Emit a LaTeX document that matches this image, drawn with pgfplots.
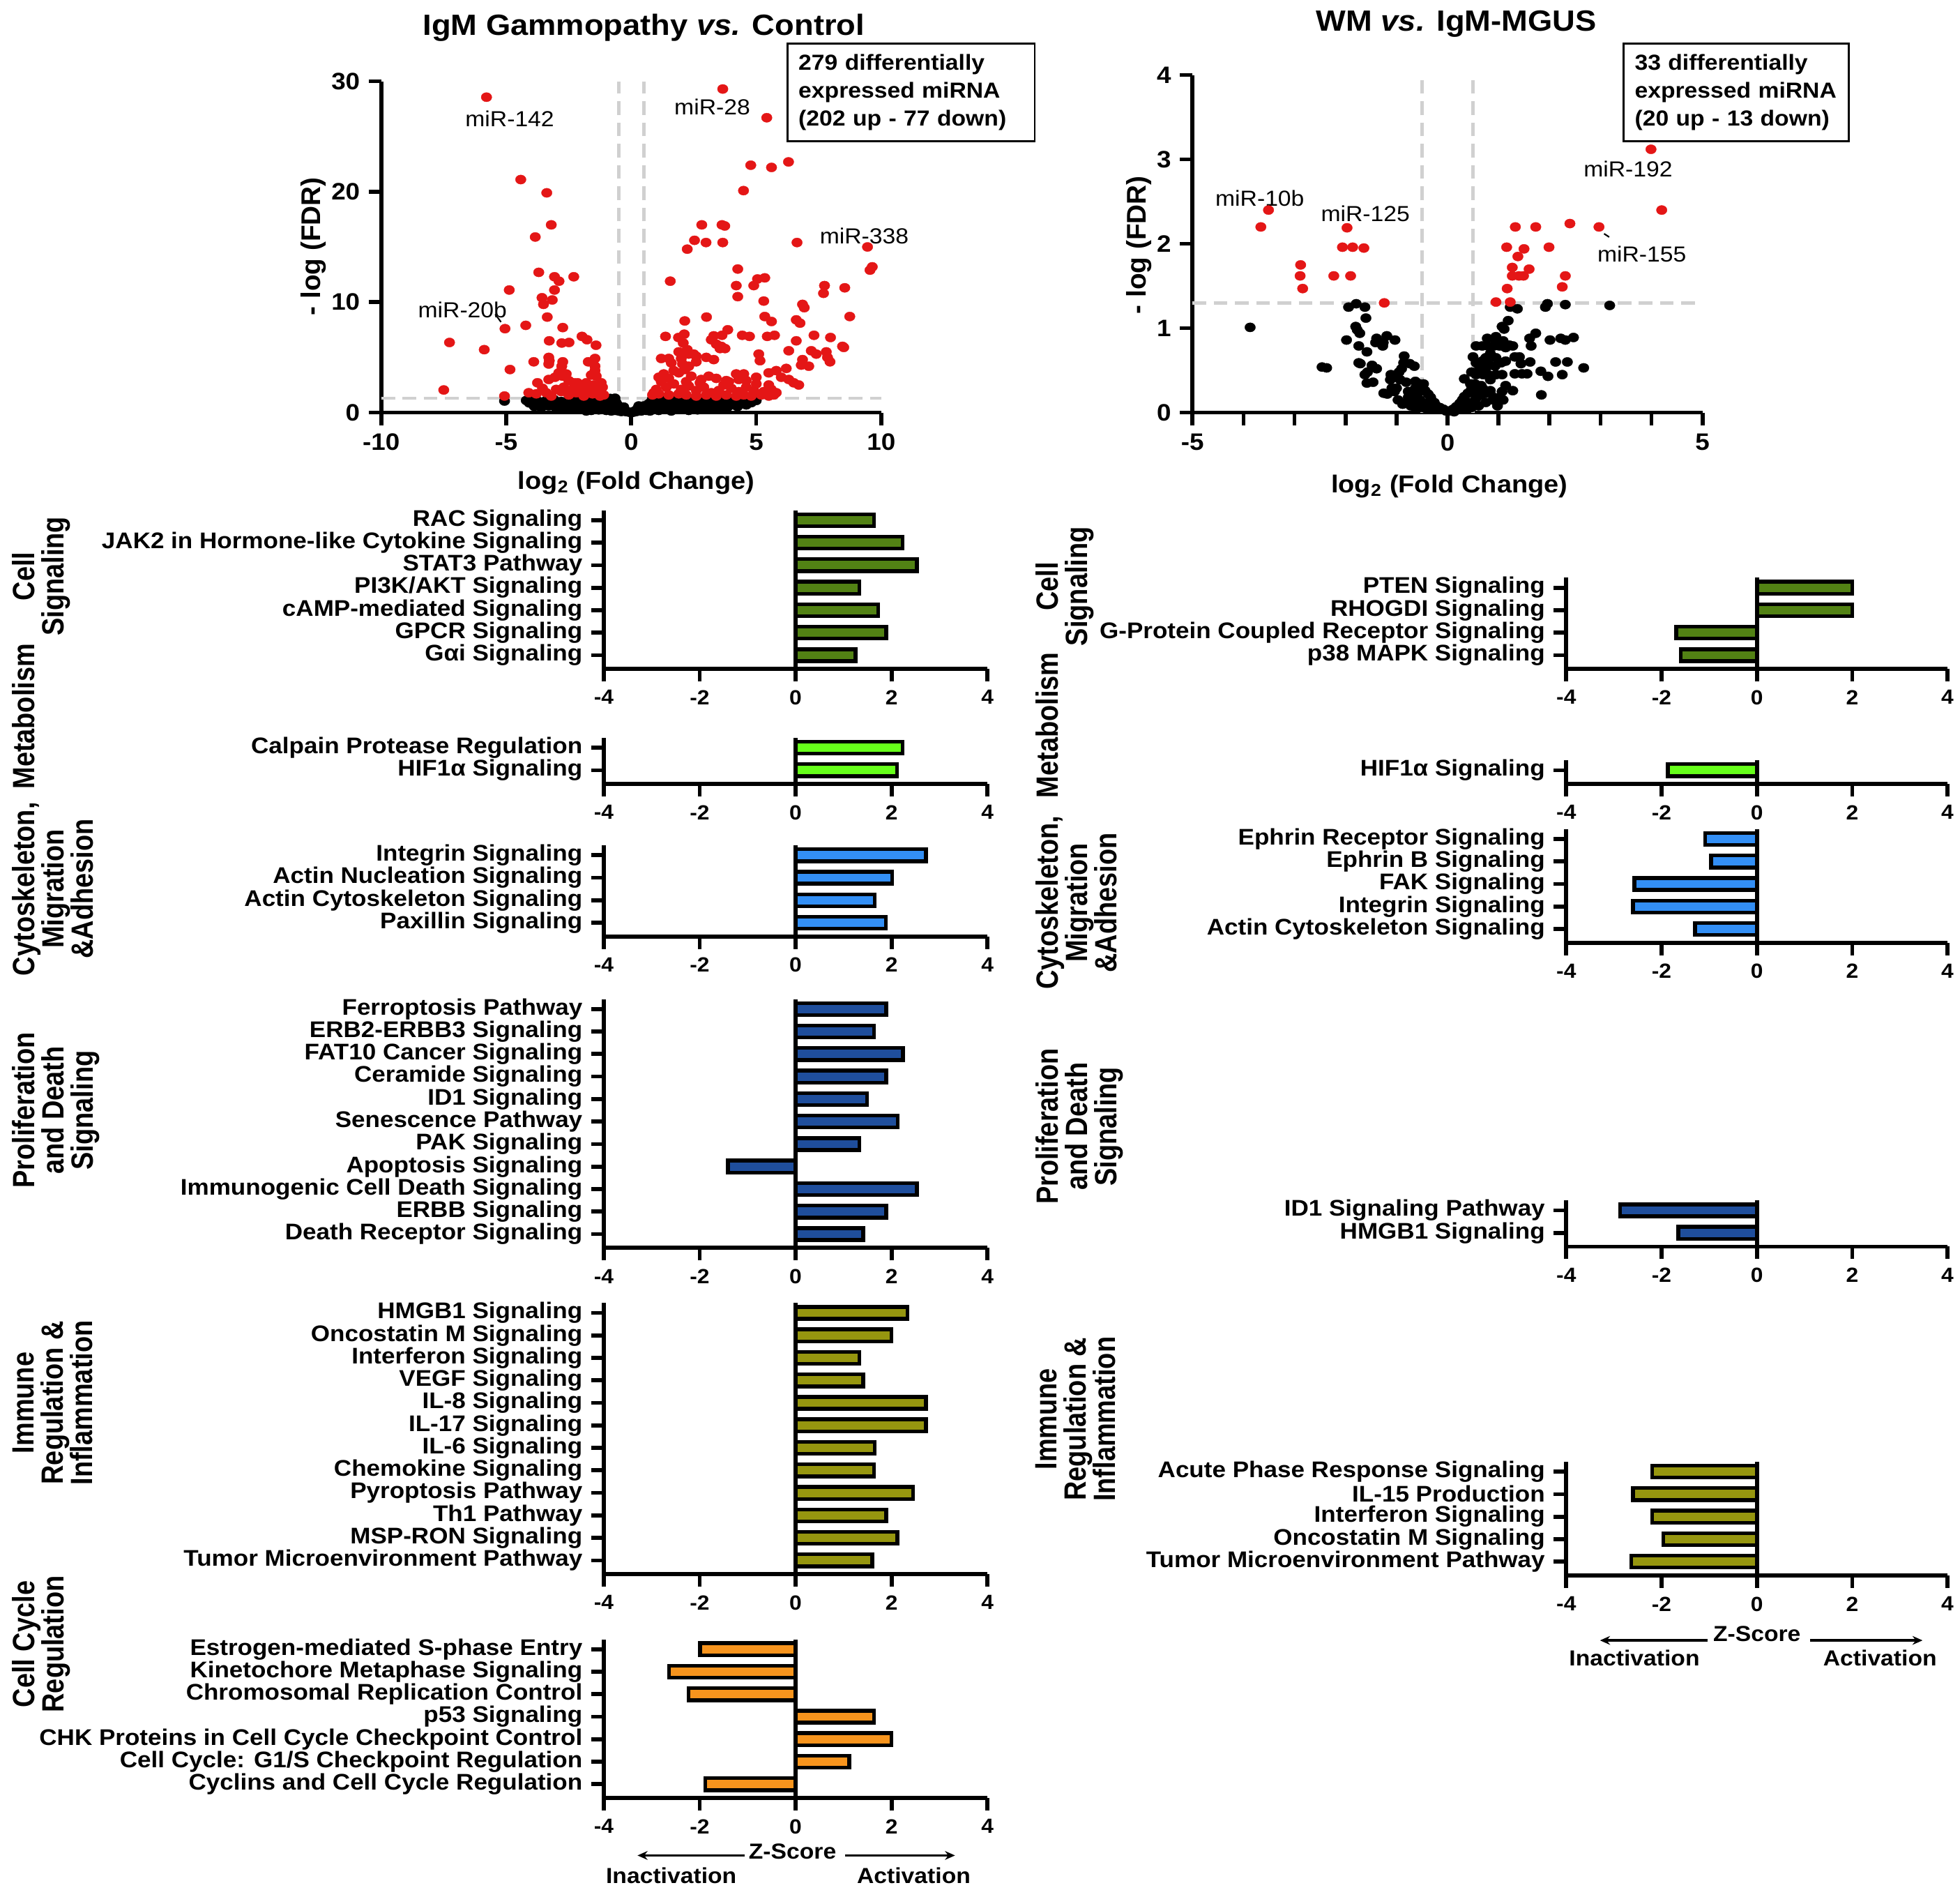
\documentclass[border=0pt]{standalone}
\usepackage{pgfplots}
\pgfplotsset{compat=1.18}
\usepackage{fontspec}
\setmainfont{Liberation Sans}[FakeStretch=1.08]
\newfontfamily\rotf{Liberation Sans}[FakeStretch=0.86]
\newfontfamily\plainf{Liberation Sans}
\usetikzlibrary{arrows.meta}

\definecolor{cellsig}{RGB}{82,130,20}
\definecolor{metab}{RGB}{102,255,26}
\definecolor{cyto}{RGB}{51,143,245}
\definecolor{prolif}{RGB}{31,78,156}
\definecolor{immune}{RGB}{150,150,15}
\definecolor{cycle}{RGB}{247,148,29}
\definecolor{updot}{RGB}{228,22,22}
\definecolor{thrgray}{RGB}{208,208,208}

\pgfplotsset{
  gp/.style={scale only axis, axis lines=left, axis line style={-, line width=1.6pt},
    tick align=outside, major tick length=5pt, minor tick length=5pt,
    tick style={black, line width=1.6pt}, minor tick style={black, line width=1.6pt},
    enlargelimits=false, clip=false, anchor=south west},
  volc/.style={gp, tick label style={font=\bfseries\fontsize{9.5}{10}\selectfont}},
  zbar/.style={gp, width=#1, xmin=-4, xmax=4, xtick={-4,-2,0,2,4},
    xticklabels={-4,-2,0,2,4}, ymin=0.39,
    xticklabel style={font=\bfseries\fontsize{8.2}{9}\selectfont},
    yticklabel style={font=\bfseries\fontsize{9.05}{9}\selectfont}},
  bars/.style={xbar, bar width=4.8pt, draw=black, line width=1.5pt, fill=#1},
  zero/.style={black, line width=1.6pt, no marks},
  thr/.style={thrgray, line width=1.3pt, dash pattern=on 5.5pt off 3pt, no marks},
  dn/.style={only marks, mark=*, mark size=1.85pt,
    mark options={fill=black, draw=black, line width=0.1pt, xscale=1.15}},
  up/.style={only marks, mark=*, mark size=1.85pt,
    mark options={fill=updot, draw=updot, line width=0.1pt, xscale=1.15}},
}
\tikzset{
  grp/.style={rotate=90, anchor=north, align=center, inner sep=0pt,
    font=\rotf\bfseries\fontsize{12.3}{11.75}\selectfont},
  ttl/.style={font=\bfseries\fontsize{11.7}{13}\selectfont},
  mir/.style={font=\fontsize{8.7}{9}\selectfont, inner sep=0pt},
  note/.style={draw, line width=0.8pt, anchor=north west, align=left,
    inner xsep=4.5pt, inner ysep=3pt, minimum height=39pt,
    font=\bfseries\fontsize{8.7}{11.25}\selectfont},
  zs/.style={font=\bfseries\fontsize{8.7}{9}\selectfont},
}

\begin{document}
\begin{tikzpicture}
\useasboundingbox (0,0) rectangle (784pt,-755.6pt);

% ---------- volcano: IgM gammopathy vs control ----------
\node[ttl] at (257.5pt,-11pt) {IgM Gammopathy \textit{vs.} Control};
\begin{axis}[volc, at={(152.5pt,-165pt)}, width=200pt, height=132.5pt,
  xmin=-10, xmax=10, ymin=0, ymax=30,
  xtick={-10,-5,0,5,10}, xticklabels={-10,-5,0,5,10},
  ytick={0,10,20,30}, yticklabels={0,10,20,30}]
\addplot[thr] coordinates {(-0.5,0) (-0.5,30)};
\addplot[thr] coordinates {(0.5,0) (0.5,30)};
\addplot[thr] coordinates {(-10,1.3) (10,1.3)};
\addplot[dn] coordinates {
(-5.07,1.05) (-4.2,1.1) (-4.0,0.9) (-3.9,1.2) (-3.8,0.7) (-3.7,1.0) (-3.6,0.5)
(-3.5,0.9) (-3.4,1.1) (-3.3,0.6) (-3.2,0.85) (-3.1,1.2) (-3.0,0.4) (-2.9,0.9)
(-2.8,1.0) (-2.7,0.5) (-2.6,0.8) (-2.5,1.1) (-2.4,0.6) (-2.3,0.9) (-2.2,0.4)
(-2.1,1.0) (-2.0,0.7) (-1.9,0.3) (-1.9,1.2) (-1.8,0.8) (-1.7,0.5) (-1.7,1.1)
(-1.6,0.2) (-1.6,0.9) (-1.5,0.6) (-1.5,1.2) (-1.4,0.3) (-1.4,1.0) (-1.3,0.7)
(-1.2,0.4) (-1.2,1.1) (-1.1,0.8) (-1.0,0.2) (-1.0,0.6) (-0.9,1.0) (-0.9,0.4)
(-0.8,0.7) (-0.8,0.15) (-0.7,0.5) (-0.7,1.2) (-0.6,0.3) (-0.6,0.9) (-0.5,0.6)
(-0.5,0.15) (-0.4,0.35) (-0.4,0.1) (-0.3,0.2) (-0.2,0.1) (-0.1,0.05) (0,0)
(0.1,0.05) (0.2,0.1) (0.3,0.2) (0.4,0.15) (0.4,0.4) (0.5,0.3) (0.5,0.6)
(0.6,0.2) (0.6,0.5) (0.7,0.8) (0.7,0.35) (0.8,0.6) (0.8,1.0) (0.9,0.3)
(0.9,0.8) (1.0,0.5) (1.0,1.1) (1.1,0.7) (1.1,0.2) (1.2,0.9) (1.2,0.45)
(1.3,1.2) (1.3,0.6) (1.4,0.3) (1.4,0.9) (1.5,0.7) (1.5,1.1) (1.6,0.4)
(1.7,0.8) (1.7,1.2) (1.8,0.5) (1.9,1.0) (2.0,0.7) (2.0,0.3) (2.1,1.1)
(2.2,0.6) (2.3,0.9) (2.4,0.4) (2.5,1.2) (2.5,0.7) (2.6,0.9) (2.7,0.5)
(2.8,1.0) (2.9,0.7) (3.0,1.1) (3.1,0.6) (3.2,0.9) (3.3,0.4) (3.4,1.0)
(3.5,0.8) (3.6,1.2) (3.7,0.6) (3.8,0.9) (3.9,1.1) (4.0,0.7) (4.1,1.0)
(4.2,0.8) (4.3,1.2) (4.4,0.9) (4.5,1.0) (4.6,0.7) (4.7,1.1) (4.8,0.9)
(5.0,1.1) (-0.3,0.5) (0.3,0.6) (-1.8,0.15) (1.6,0.15) (-2.5,0.3) (2.3,0.2)
(-4.08,0.88) (-3.88,0.57) (-3.6,0.46) (-3.32,0.67) (-3.13,0.99) (-3.79,1.09)
(-2.9,0.46) (-2.76,0.78) (-2.52,0.67) (-2.34,0.88) (-2.15,1.2) (-1.92,0.67)
(-1.73,0.88) (-1.54,0.99) (-1.36,0.88) (-1.17,1.09) (-0.98,1.2) (-0.84,1.28)
(-0.65,1.3) (0.84,1.2) (1.26,1.3) (1.64,1.2) (1.92,1.09) (2.29,1.2) (2.66,1.09)
(3.04,1.2) (3.41,1.09) (3.79,1.2) (4.16,1.09) (4.63,1.09) (4.98,1.2)
(0.98,0.67) (1.36,0.57) (1.82,0.67) (2.29,0.57) (2.76,0.46) (3.22,0.67)
(3.69,0.57) (4.16,0.67) (0.42,0.46) (0.61,0.36) (0.79,0.57) (0.23,0.25)
(0.14,0.15) (3.41,0.36) (3.79,0.67)
(-1.8,0.5) (-1.6,0.35) (-1.45,0.55) (-1.3,0.25) (-1.15,0.45) (-1.05,0.3)
(-0.95,0.5) (-0.85,0.25) (-0.75,0.4) (-0.65,0.2) (-0.55,0.35) (-0.45,0.2)
(-0.35,0.3) (-0.25,0.12) (-1.25,0.85) (-1.05,0.95) (-0.85,1.05) (-1.65,0.7)
(-1.85,1.0) (-2.2,0.75) (-2.35,0.5) (-2.6,0.95) (-2.85,0.65) (-3.05,0.8)
(0.25,0.35) (0.55,0.45) (0.75,0.15) (0.95,0.65) (1.15,0.4) (1.35,0.8)
(1.55,0.5) (1.75,0.3) (1.95,0.55) (2.15,0.85) (2.45,0.45) (2.65,0.25)
(2.85,0.55) (3.15,0.3) (3.45,0.6) (3.85,0.5) (4.25,0.55) (4.55,0.85)};
\addplot[up] coordinates {
(-5.79,28.56) (3.66,29.30) (5.42,26.70) (6.29,22.70) (4.78,22.40) (5.61,22.20)
(4.49,20.10) (-4.42,21.10) (-3.38,19.90) (-3.20,17.00) (-3.84,15.90) (2.82,17.00)
(3.63,17.00) (3.74,16.90) (2.53,15.60) (2.99,15.40) (3.66,15.40) (2.24,14.80)
(6.63,15.40) (9.45,15.00) (9.64,13.20) (9.55,12.90) (4.26,13.00) (1.56,11.90)
(-3.70,12.70) (-3.07,12.30) (-2.89,11.90) (-2.30,12.30) (-4.88,11.10) (-3.07,11.10)
(4.20,11.50) (5.05,12.10) (5.34,12.20) (4.90,11.50) (4.26,10.50) (7.73,11.50)
(7.69,10.80) (8.54,11.30) (-3.57,10.40) (-3.51,9.80) (-3.16,10.20) (5.30,10.10)
(6.85,9.80) (6.92,9.50) (-3.36,8.65) (-5.05,7.60) (-4.22,7.90) (-2.74,7.70)
(3.01,8.65) (2.14,8.30) (5.34,8.70) (5.61,8.25) (6.60,8.40) (6.75,8.10)
(8.74,8.70) (3.86,7.50) (2.12,7.10) (1.37,6.90) (3.30,6.95) (3.63,7.00)
(4.44,7.00) (4.73,6.90) (5.44,6.90) (5.73,7.00) (7.31,7.00) (7.97,6.80)
(-1.97,6.90) (-1.77,6.60) (-3.28,6.50) (-2.78,6.30) (-2.49,6.35) (-1.41,6.10)
(-7.27,6.35) (-5.88,5.70)
(1.89,6.80) (2.08,6.30) (2.24,5.70) (1.9,5.5) (2.1,5.4) (2.3,5.3) (2.5,5.3) (2.6,5.1)
(3.2,6.6) (3.4,6.2) (3.6,6.0) (3.75,5.8) (3.55,5.8) (6.6,6.5) (8.45,6.0) (8.5,5.9)
(6.3,5.6) (7.2,5.6) (7.4,5.3) (7.8,5.5) (7.85,5.0) (7.95,4.6) (5.1,5.3) (5.15,4.7)
(6.85,4.8) (6.8,4.3) (7.1,4.2) (1.2,4.9) (1.5,4.9) (1.6,4.5) (2.0,4.9) (2.05,4.4)
(2.3,4.2) (2.6,4.6) (3.3,4.8) (3.0,5.0) (1.7,3.8) (1.9,3.6) (2.15,3.9) (2.4,3.3)
(1.3,3.5) (1.1,3.2) (1.5,3.1) (2.8,3.0) (3.1,3.3) (3.4,3.1) (3.8,2.9) (4.2,3.5)
(4.5,3.5) (4.3,3.0) (5.0,3.2) (5.5,3.6) (5.8,3.8) (6.2,4.0) (6.0,3.2) (6.3,3.0)
(6.5,2.7) (6.7,2.5) (5.5,2.5) (5.0,2.6) (4.6,2.3) (4.9,2.0) (5.3,1.9) (5.6,2.1)
(5.8,1.8) (4.3,1.9) (4.0,2.2) (3.7,2.5) (3.5,2.0) (3.2,1.8) (2.9,2.3) (2.6,2.0)
(2.3,2.4) (2.0,2.1) (1.7,2.6) (1.4,2.3) (1.2,2.8) (1.0,2.1) (0.9,1.8) (0.85,1.6)
(1.1,1.7) (1.5,1.6) (1.9,1.7) (2.2,1.6) (2.6,1.5) (3.0,1.6) (3.4,1.5) (3.8,1.6)
(4.2,1.5) (4.5,1.6) (4.8,1.5) (5.2,1.6) (5.5,1.5) (5.7,1.6) (3.9,2.8) (4.6,2.9)
(2.2,2.8) (2.75,2.7)
(-4.85,3.9) (-3.9,4.6) (-3.3,5.0) (-3.28,4.7) (-3.3,4.4) (-2.74,4.6) (-2.78,4.2)
(-1.72,4.6) (-1.45,4.9) (-1.45,4.2) (-3.75,2.7) (-3.55,2.2) (-3.3,3.0) (-3.05,3.2)
(-2.9,3.6) (-2.75,3.3) (-2.6,3.5) (-2.5,2.9) (-2.3,2.7) (-2.1,2.5) (-1.95,2.3)
(-1.8,2.7) (-1.65,2.2) (-1.5,2.5) (-1.4,3.3) (-1.35,2.1) (-1.2,2.7) (-1.15,2.3)
(-1.6,3.4) (-1.45,3.8) (-2.35,2.1) (-2.7,2.3) (-3.0,2.1) (-3.4,1.8) (-3.8,1.7)
(-4.1,1.8) (-2.8,1.9) (-2.2,1.8) (-1.85,1.9) (-1.55,1.7) (-1.3,1.9) (-1.1,1.6)
(-1.9,1.5) (-2.5,1.6) (-3.2,1.5) (-1.25,1.5) (-7.5,2.05) (-5.07,1.5) (-2.15,2.7)
(-1.7,2.0)};
\node[mir] at (axis cs:-4.86,26.6) {miR-142};
\node[mir] at (axis cs:3.24,27.7) {miR-28};
\node[mir] at (axis cs:9.32,16.0) {miR-338};
\node[mir] at (axis cs:-6.75,9.3) {miR-20b};
\draw[line width=0.6pt] (axis cs:-5.44,8.9) -- (axis cs:-5.21,8.2);
\end{axis}
\node[note, minimum width=99pt, text width=90pt] at (314.5pt,-17pt)
  {279 differentially\\expressed miRNA\\(202 up - 77 down)};
\node[rotate=90, font=\plainf\bfseries\fontsize{10.8}{12}\selectfont] at (125.5pt,-98.5pt) {- log (FDR)};
\node[font=\bfseries\fontsize{9.8}{11}\selectfont] at (254.5pt,-193pt) {log\textsubscript{2} (Fold Change)};

% ---------- volcano: WM vs IgM-MGUS ----------
\node[ttl] at (582.5pt,-9.5pt) {WM \textit{vs.} IgM-MGUS};
\begin{axis}[volc, at={(477pt,-165pt)}, width=204pt, height=135pt,
  xmin=-5, xmax=5, ymin=0, ymax=4,
  xtick={-5,0,5}, xticklabels={-5,0,5},
  minor xtick={-4,-3,-2,-1,1,2,3,4},
  ytick={0,1,2,3,4}, yticklabels={0,1,2,3,4}]
\addplot[thr] coordinates {(-0.5,0) (-0.5,4)};
\addplot[thr] coordinates {(0.5,0) (0.5,4)};
\addplot[thr] coordinates {(-5,1.3) (5,1.3)};
\addplot[dn] coordinates {
(-3.87,1.01) (-2.46,0.54) (-2.37,0.53) (3.18,1.27)
(-1.94,1.25) (-1.79,1.29) (-1.62,1.25) (-1.60,1.12) (-1.80,1.02) (-1.77,0.98)
(-1.72,0.94) (-1.98,0.86) (-1.74,0.79) (-1.58,0.72) (-1.39,0.88) (-1.41,0.83)
(-1.26,0.83) (-1.27,0.79) (-1.19,0.91) (-1.03,0.86) (-1.74,0.59) (-1.71,0.58)
(-1.48,0.56) (-1.39,0.52) (-1.62,0.45) (-1.57,0.48) (-1.58,0.35) (-1.46,0.36)
(-0.85,0.67) (-0.86,0.59) (-0.74,0.58) (-0.65,0.55) (-0.90,0.52) (-0.95,0.48)
(-1.02,0.43) (-1.11,0.45) (-1.12,0.39) (-0.93,0.39) (-0.81,0.36) (-1.09,0.29)
(-1.00,0.29) (-1.04,0.25) (-1.25,0.23) (-1.18,0.22) (-0.97,0.15) (-0.83,0.11)
(-0.77,0.25) (-0.70,0.21) (-0.77,0.18) (-0.65,0.15) (-0.72,0.08) (-0.63,0.37)
(-0.54,0.34) (-0.47,0.34) (-0.44,0.26) (-0.38,0.22) (-0.33,0.18) (-0.26,0.12)
(-0.22,0.08) (-0.15,0.06) (-0.08,0.04) (-0.03,0.02) (-0.54,0.15) (-0.44,0.11)
(-0.35,0.08) (-0.58,0.08) (-0.49,0.06) (-0.40,0.04) (-0.31,0.04) (-0.63,0.29)
(-0.58,0.23) (-0.74,0.12) (-0.88,0.10) (-0.61,0.04)
(1.23,1.25) (1.37,1.23) (1.19,1.09) (1.07,1.02) (1.11,0.99) (1.92,1.25)
(1.96,1.29) (2.31,1.28) (0.78,0.88) (0.95,0.90) (0.95,0.85) (1.09,0.85)
(1.12,0.81) (1.21,0.80) (1.28,0.79) (1.14,0.77) (0.56,0.79) (0.68,0.79)
(0.79,0.79) (0.91,0.79) (1.02,0.79) (0.84,0.70) (0.95,0.65) (0.75,0.65)
(0.50,0.66) (0.56,0.59) (0.68,0.61) (0.79,0.59) (0.63,0.54) (0.75,0.52)
(0.93,0.55) (1.05,0.59) (1.14,0.61) (0.47,0.48) (0.56,0.45) (0.70,0.45)
(0.84,0.44) (0.95,0.45) (1.07,0.45) (0.33,0.40) (0.45,0.34) (0.54,0.34)
(0.66,0.32) (0.84,0.39) (1.32,0.66) (1.41,0.66) (1.44,0.58) (1.61,0.88)
(1.73,0.94) (1.64,0.79) (1.62,0.60) (1.32,0.46) (1.46,0.46) (1.56,0.46)
(1.83,0.49) (1.97,0.43) (2.01,0.86) (2.22,0.88) (2.31,0.86) (2.47,0.89)
(2.12,0.60) (2.35,0.60) (2.67,0.53) (2.25,0.45) (1.84,0.21) (1.14,0.32)
(1.07,0.25) (1.28,0.26) (1.02,0.18) (0.91,0.18) (1.09,0.15) (0.98,0.08)
(0.11,0.04) (0.17,0.07) (0.24,0.11) (0.29,0.15) (0.33,0.19) (0.40,0.23)
(0.47,0.28) (0.54,0.30) (0.29,0.07) (0.38,0.10) (0.47,0.12) (0.56,0.17)
(0.66,0.21) (0.75,0.23) (0.84,0.26) (0.22,0.04) (0.33,0.04) (0.47,0.06)
(0.61,0.08) (0.75,0.12) (0.89,0.15) (0.56,0.23) (0.70,0.28) (0.04,0.02)
(0.13,0.01)};
\addplot[up] coordinates {
(-3.51,2.40) (-3.66,2.20) (-2.88,1.75) (-2.89,1.62) (-2.84,1.47) (-1.97,2.19)
(-2.06,1.96) (-1.86,1.96) (-1.64,1.95) (-2.23,1.62) (-1.90,1.62) (-1.24,1.30)
(3.99,3.12) (4.20,2.40) (2.97,2.20) (2.40,2.24) (1.33,2.20) (1.73,2.20)
(1.16,1.96) (1.50,1.94) (1.99,1.96) (1.38,1.85) (1.27,1.72) (1.60,1.70)
(1.27,1.62) (1.40,1.62) (1.49,1.62) (2.31,1.62) (1.17,1.47) (2.25,1.49)
(0.95,1.31) (1.23,1.31)};
\node[mir] at (axis cs:-3.68,2.54) {miR-10b};
\node[mir] at (axis cs:-1.61,2.36) {miR-125};
\node[mir] at (axis cs:3.54,2.89) {miR-192};
\node[mir] at (axis cs:3.81,1.88) {miR-155};
\draw[line width=0.6pt] (axis cs:3.07,2.12) -- (axis cs:3.17,2.08);
\end{axis}
\node[note, minimum width=90pt, text width=81pt] at (649pt,-17pt)
  {33 differentially\\expressed miRNA\\(20 up - 13 down)};
\node[rotate=90, font=\plainf\bfseries\fontsize{10.8}{12}\selectfont] at (455.5pt,-98pt) {- log (FDR)};
\node[font=\bfseries\fontsize{9.8}{11}\selectfont] at (579.75pt,-194.5pt) {log\textsubscript{2} (Fold Change)};

% ---------- left bar panels ----------
\begin{axis}[zbar=153.5pt, at={(241.5pt,-267.5pt)}, height=63.45pt, ymax=7.44,
  ytick={1,2,3,4,5,6,7},
  yticklabels={Gαi Signaling,GPCR Signaling,cAMP-mediated Signaling,PI3K/AKT Signaling,STAT3 Pathway,JAK2 in Hormone-like Cytokine Signaling,RAC Signaling}]
\addplot[bars=cellsig] coordinates {(1.63,7) (2.23,6) (2.53,5) (1.33,4) (1.72,3) (1.89,2) (1.25,1)};
\addplot[zero] coordinates {(0,0.39) (0,7.44)};
\end{axis}

\begin{axis}[zbar=153.5pt, at={(241.5pt,-313.5pt)}, height=18.45pt, ymax=2.44,
  ytick={1,2}, yticklabels={HIF1α Signaling,Calpain Protease Regulation}]
\addplot[bars=metab] coordinates {(2.23,2) (2.11,1)};
\addplot[zero] coordinates {(0,0.39) (0,2.44)};
\end{axis}

\begin{axis}[zbar=153.5pt, at={(241.5pt,-374.5pt)}, height=36.45pt, ymax=4.44,
  ytick={1,2,3,4},
  yticklabels={Paxillin Signaling,Actin Cytoskeleton Signaling,Actin Nucleation Signaling,Integrin Signaling}]
\addplot[bars=cyto] coordinates {(2.72,4) (2.01,3) (1.65,2) (1.88,1)};
\addplot[zero] coordinates {(0,0.39) (0,4.44)};
\end{axis}

\begin{axis}[zbar=153.5pt, at={(241.5pt,-499pt)}, height=99.45pt, ymax=11.44,
  ytick={1,2,3,4,5,6,7,8,9,10,11},
  yticklabels={Death Receptor Signaling,ERBB Signaling,Immunogenic Cell Death Signaling,Apoptosis Signaling,PAK Signaling,Senescence Pathway,ID1 Signaling,Ceramide Signaling,FAT10 Cancer Signaling,ERB2-ERBB3 Signaling,Ferroptosis Pathway}]
\addplot[bars=prolif] coordinates {(1.89,11) (1.63,10) (2.24,9) (1.89,8) (1.49,7) (2.13,6) (1.33,5) (-1.41,4) (2.53,3) (1.89,2) (1.41,1)};
\addplot[zero] coordinates {(0,0.39) (0,11.44)};
\end{axis}

\begin{axis}[zbar=153.5pt, at={(241.5pt,-629.5pt)}, height=108.45pt, ymax=12.44,
  ytick={1,2,3,4,5,6,7,8,9,10,11,12},
  yticklabels={Tumor Microenvironment Pathway,MSP-RON Signaling,Th1 Pathway,Pyroptosis Pathway,Chemokine Signaling,IL-6 Signaling,IL-17 Signaling,IL-8 Signaling,VEGF Signaling,Interferon Signaling,Oncostatin M Signaling,HMGB1 Signaling}]
\addplot[bars=immune] coordinates {(2.33,12) (2.00,11) (1.33,10) (1.41,9) (2.72,8) (2.72,7) (1.65,6) (1.63,5) (2.45,4) (1.89,3) (2.12,2) (1.60,1)};
\addplot[zero] coordinates {(0,0.39) (0,12.44)};
\end{axis}

\begin{axis}[zbar=153.5pt, at={(241.5pt,-719pt)}, height=63.45pt, ymax=7.44,
  ytick={1,2,3,4,5,6,7},
  yticklabels={Cyclins and Cell Cycle Regulation,Cell Cycle: G1/S Checkpoint Regulation,CHK Proteins in Cell Cycle Checkpoint Control,p53 Signaling,Chromosomal Replication Control,Kinetochore Metaphase Signaling,Estrogen-mediated S-phase Entry}]
\addplot[bars=cycle] coordinates {(-1.99,7) (-2.64,6) (-2.23,5) (1.63,4) (2.00,3) (1.12,2) (-1.88,1)};
\addplot[zero] coordinates {(0,0.39) (0,7.44)};
\end{axis}

% ---------- right bar panels ----------
\begin{axis}[zbar=152.5pt, at={(626.5pt,-267.5pt)}, height=36.45pt, ymax=4.44,
  ytick={1,2,3,4},
  yticklabels={p38 MAPK Signaling,G-Protein Coupled Receptor Signaling,RHOGDI Signaling,PTEN Signaling}]
\addplot[bars=cellsig] coordinates {(2.00,4) (2.00,3) (-1.69,2) (-1.60,1)};
\addplot[zero] coordinates {(0,0.39) (0,4.44)};
\end{axis}

\begin{axis}[zbar=152.5pt, at={(626.5pt,-313.5pt)}, height=9.45pt, ymax=1.44,
  ytick={1}, yticklabels={HIF1α Signaling}]
\addplot[bars=metab] coordinates {(-1.87,1)};
\addplot[zero] coordinates {(0,0.39) (0,1.44)};
\end{axis}

\begin{axis}[zbar=152.5pt, at={(626.5pt,-377pt)}, height=45.45pt, ymax=5.44,
  ytick={1,2,3,4,5},
  yticklabels={Actin Cytoskeleton Signaling,Integrin Signaling,FAK Signaling,Ephrin B Signaling,Ephrin Receptor Signaling}]
\addplot[bars=cyto] coordinates {(-1.09,5) (-0.96,4) (-2.57,3) (-2.60,2) (-1.30,1)};
\addplot[zero] coordinates {(0,0.39) (0,5.44)};
\end{axis}

\begin{axis}[zbar=152.5pt, at={(626.5pt,-498.5pt)}, height=18.45pt, ymax=2.44,
  ytick={1,2}, yticklabels={HMGB1 Signaling,ID1 Signaling Pathway}]
\addplot[bars=prolif] coordinates {(-2.87,2) (-1.65,1)};
\addplot[zero] coordinates {(0,0.39) (0,2.44)};
\end{axis}

\begin{axis}[zbar=152.5pt, at={(626.5pt,-630pt)}, height=45.45pt, ymax=5.44,
  ytick={1,2,3,4,5},
  yticklabels={Tumor Microenvironment Pathway,Oncostatin M Signaling,Interferon Signaling,IL-15 Production,Acute Phase Response Signaling}]
\addplot[bars=immune] coordinates {(-2.20,5) (-2.60,4) (-2.20,3) (-1.96,2) (-2.64,1)};
\addplot[zero] coordinates {(0,0.39) (0,5.44)};
\end{axis}

% ---------- group labels ----------
\node[grp] at (4.75pt,-230.5pt) {Cell\\Signaling};
\node[grp] at (4.75pt,-286.5pt) {Metabolism};
\node[grp] at (4.75pt,-355.5pt) {Cytoskeleton,\\Migration\\\&Adhesion};
\node[grp] at (4.75pt,-444pt) {Proliferation\\and Death\\Signaling};
\node[grp] at (4.75pt,-561pt) {Immune\\Regulation \&\\Inflammation};
\node[grp] at (4.75pt,-657.5pt) {Cell Cycle\\Regulation};

\node[grp] at (414pt,-234.5pt) {Cell\\Signaling};
\node[grp] at (414pt,-290pt) {Metabolism};
\node[grp] at (414pt,-361pt) {Cytoskeleton,\\Migration\\\&Adhesion};
\node[grp] at (414pt,-450.5pt) {Proliferation\\and Death\\Signaling};
\node[grp] at (414pt,-567.5pt) {Immune\\Regulation \&\\Inflammation};

% ---------- z-score notes ----------
\node[zs] at (317pt,-740.5pt) {Z-Score};
\draw[line width=0.9pt, -{Stealth[length=4pt,width=3.5pt]}] (298pt,-742pt) -- (255pt,-742pt);
\draw[line width=0.9pt, -{Stealth[length=4pt,width=3.5pt]}] (338pt,-742pt) -- (382pt,-742pt);
\node[zs] at (268.5pt,-750pt) {Inactivation};
\node[zs] at (365.5pt,-750pt) {Activation};

\node[zs] at (702.75pt,-653.5pt) {Z-Score};
\draw[line width=0.9pt, -{Stealth[length=4pt,width=3.5pt]}] (683pt,-656pt) -- (640pt,-656pt);
\draw[line width=0.9pt, -{Stealth[length=4pt,width=3.5pt]}] (724pt,-656pt) -- (769pt,-656pt);
\node[zs] at (653.75pt,-663pt) {Inactivation};
\node[zs] at (752pt,-663pt) {Activation};
\end{tikzpicture}
\end{document}
